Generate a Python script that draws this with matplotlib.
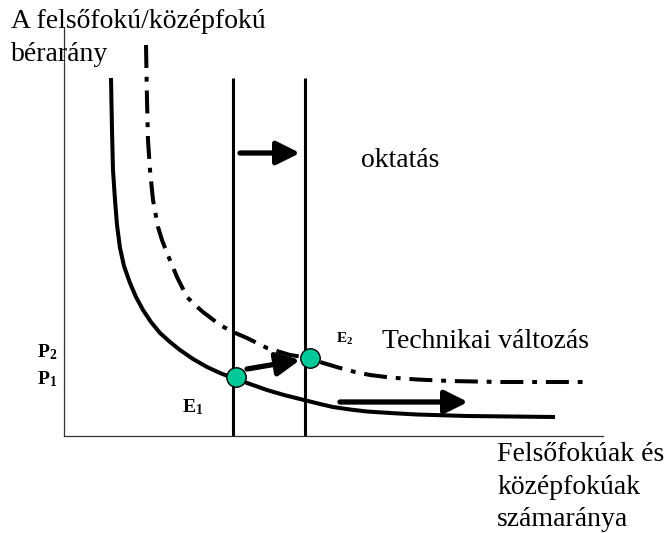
import matplotlib
matplotlib.use("Agg")
import matplotlib.pyplot as plt

plt.rcParams['font.family'] = ['Liberation Serif', 'DejaVu Serif']
plt.rcParams['mathtext.fontset'] = 'custom'
plt.rcParams['mathtext.rm'] = 'Liberation Serif'
plt.rcParams['mathtext.bf'] = 'Liberation Serif:bold'

W, H = 666, 533

# Curves (x: ratio of graduates, y: wage ratio)
demand_x = [47, 48, 49, 51, 53, 56, 60, 66, 72, 79, 87, 96, 106, 116, 129, 143, 156, 169, 186, 203,
            220, 236, 256, 269, 286, 303, 326, 353, 403, 491]
demand_y = [358, 306, 266, 236, 211, 188, 170, 153, 139, 126, 114, 103, 94, 86, 77, 69, 63, 58, 52, 46,
            41, 37, 32, 29, 26.5, 24.5, 23, 21.5, 20, 19]

shifted_x = [82, 83, 84, 86, 89, 94, 98, 103, 113, 123, 131, 139, 156, 169, 183, 203, 226, 246,
             256, 276, 291, 306, 326, 353, 386, 436, 523]
shifted_y = [391, 336, 296, 266, 236, 209, 196, 183, 159, 139, 131, 124, 111, 104, 98, 88, 81, 78,
             74, 68, 64, 61, 58.5, 56.5, 55, 54, 54]

supply_x = [169, 241]
supply_top = 358

E_x = [172, 246]
E_y = [59, 78]

arrows = [((176, 283), (236, 283)), ((183, 67), (236, 76)), ((276, 34), (404, 34))]

fig = plt.figure(figsize=(W / 100, H / 100), dpi=100)
ax = fig.add_axes([64 / W, (H - 436) / H, (603 - 64) / W, (436 - 28) / H])
ax.set_xlim(0, 539)
ax.set_ylim(0, 408)
for s in ['top', 'right']:
    ax.spines[s].set_visible(False)
for s in ['left', 'bottom']:
    ax.spines[s].set_color('#333333')
    ax.spines[s].set_linewidth(0.9)
ax.set_xticks([])
ax.set_yticks([])

ax.plot(demand_x, demand_y, color='black', lw=2.9, solid_capstyle='butt', solid_joinstyle='round')
ax.plot(shifted_x, shifted_y, color='black', lw=2.9, linestyle=(0, (5.7, 2.2, 1.2, 2.2)),
        dash_capstyle='butt', dash_joinstyle='round')
for sx in supply_x:
    ax.plot([sx, sx], [0, supply_top], color='black', lw=2.2, solid_capstyle='butt')

for (x0, y0), (x1, y1) in arrows:
    ax.annotate('', xy=(x1, y1), xytext=(x0, y0),
                arrowprops=dict(arrowstyle='-|>,head_length=0.7,head_width=0.35', lw=3.8,
                                color='black', mutation_scale=20, shrinkA=0, shrinkB=0))

ax.plot(E_x, E_y, 'o', markersize=14, markerfacecolor='#00c896', markeredgecolor='black',
        markeredgewidth=1.0, linestyle='none', zorder=5)

def ft(px, py, s, **kw):
    fig.text(px / W, 1 - py / H, s, **kw)

fs = 20
ft(11, 28, 'A felsőfokú/középfokú', fontsize=fs, va='baseline')
ft(11, 61, 'bérarány', fontsize=fs, va='baseline')
ft(361, 167, 'oktatás', fontsize=fs, va='baseline')
ft(382, 348, 'Technikai változás', fontsize=fs, va='baseline')
ft(497, 461, 'Felsőfokúak és', fontsize=fs, va='baseline')
ft(497, 494, 'középfokúak', fontsize=fs, va='baseline')
ft(497, 526, 'számaránya', fontsize=fs, va='baseline')

ft(37, 357, r'$\mathbf{P_2}$', fontsize=14, va='baseline')
ft(37, 384, r'$\mathbf{P_1}$', fontsize=14, va='baseline')
ft(182, 412, r'$\mathbf{E_1}$', fontsize=14, va='baseline')
ft(336, 343, r'$\mathbf{E_2}$', fontsize=11, va='baseline')

fig.savefig('out.png', dpi=100)
